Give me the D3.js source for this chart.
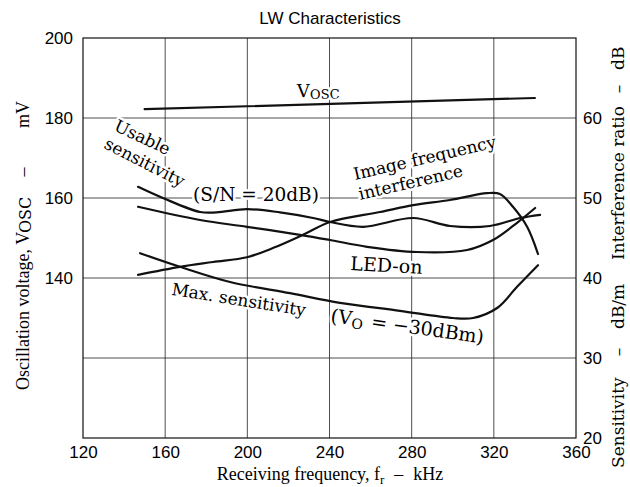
<!DOCTYPE html>
<html><head><meta charset="utf-8">
<script src="https://cdn.jsdelivr.net/npm/d3@7"></script>
<style>body{margin:0;background:#fff}svg{display:block}</style>
</head><body>
<svg id="c" width="630" height="487"></svg>
<script>
// ---- data ----
const xTicks = [120, 160, 200, 240, 280, 320, 360];
const leftTicks = [200, 180, 160, 140];
const rightTicks = [60, 50, 40, 30, 20];
const hGrid = [180, 160, 140, 120];          // in mV (left axis)

const voscFreq = [150, 340];
const voscMv   = [182.2, 185.0];

const usableFreq = [146.8, 158.9, 177.0, 185.0, 199.8, 215.9, 232.0, 240.3, 256.3, 280.7, 298.7, 318.1, 332.8, 342.5];
const usableDb   = [51.4, 50.0, 48.25, 48.2, 48.6, 48.2, 47.5, 47.0, 46.4, 47.5, 46.5, 46.5, 47.5, 47.9];

const ledFreq = [146.8, 177.0, 199.8, 225.6, 240.3, 258.3, 282.6, 307.0, 319.6, 331.3, 340.1];
const ledDb   = [48.9, 47.25, 46.4, 45.4, 44.75, 43.9, 43.25, 43.5, 44.75, 46.9, 48.75];

const imageFreq = [146.8, 167.2, 183.3, 199.8, 213.0, 227.1, 240.3, 264.6, 280.7, 298.7, 316.7, 323.0, 329.3, 336.2, 341.5];
const imageDb   = [40.4, 41.4, 42.0, 42.6, 43.8, 45.4, 47.0, 48.25, 49.1, 49.75, 50.6, 50.5, 48.9, 46.4, 43.0];

const maxFreq = [147.8, 167.2, 191.6, 220.8, 245.1, 274.3, 300.1, 309.9, 321.6, 331.3, 341.5];
const maxDb   = [43.1, 41.4, 39.5, 38.1, 36.9, 35.9, 35.0, 35.0, 36.25, 38.9, 41.6];

// ---- layout ----
const svg = d3.select("#c");
const W = 630, H = 487;
const m = {l: 83, r: 54, t: 38, b: 49};
const x = d3.scaleLinear().domain([120, 360]).range([m.l, W - m.r]);
const yL = d3.scaleLinear().domain([100, 200]).range([H - m.b, m.t]);
const yR = d3.scaleLinear().domain([20, 70]).range([H - m.b, m.t]);

const serifAx = "'Liberation Serif','Times New Roman',serif";
const serifAn = "'DejaVu Serif',serif";
const sans = "'Liberation Sans',Arial,sans-serif";

svg.append("rect").attr("width", W).attr("height", H).attr("fill", "#fff");

// title
svg.append("text").attr("x", 330).attr("y", 24).attr("text-anchor", "middle")
  .attr("font-family", sans).attr("font-size", 17).text("LW Characteristics");

// grid
const g = svg.append("g").attr("stroke", "#222").attr("stroke-width", 0.8).attr("fill", "none");
g.selectAll("line.v").data(xTicks.slice(1, -1)).join("line")
  .attr("x1", d => x(d)).attr("x2", d => x(d)).attr("y1", yL(200)).attr("y2", yL(100));
g.selectAll("line.h").data(hGrid).join("line")
  .attr("x1", x(120)).attr("x2", x(360)).attr("y1", d => yL(d)).attr("y2", d => yL(d));

// axes (labels only, frame drawn separately)
const axB = d3.axisBottom(x).tickValues(xTicks).tickSize(0).tickPadding(6);
svg.append("g").attr("transform", `translate(0,${yL(100)})`).call(axB)
  .call(s => s.select(".domain").remove())
  .selectAll("text").attr("font-family", sans).attr("font-size", 17).attr("fill", "#000")
  .attr("dy", "0.85em");
const axL = d3.axisLeft(yL).tickValues(leftTicks).tickSize(0).tickPadding(10);
svg.append("g").attr("transform", `translate(${x(120)},0)`).call(axL)
  .call(s => s.select(".domain").remove())
  .selectAll("text").attr("font-family", sans).attr("font-size", 17).attr("fill", "#000");
const axR = d3.axisRight(yR).tickValues(rightTicks).tickSize(0).tickPadding(7);
svg.append("g").attr("transform", `translate(${x(360)},0)`).call(axR)
  .call(s => s.select(".domain").remove())
  .selectAll("text").attr("font-family", sans).attr("font-size", 17).attr("fill", "#000");

// axis titles
const bt = svg.append("text").attr("x", 330).attr("y", 480).attr("text-anchor", "middle")
  .attr("font-family", serifAx).attr("font-size", 18);
bt.append("tspan").text("Receiving frequency, f");
bt.append("tspan").attr("font-size", 13).attr("dy", 4).text("r");
bt.append("tspan").attr("dy", -4).attr("dx", 10).text("–");
bt.append("tspan").attr("dx", 10).text("kHz");

// vertical title pieces: (x baseline, y where text starts at bottom, text, options)
function vtext(xb, y0, txt, opt) {
  opt = opt || {};
  return svg.append("text").attr("transform", `translate(${xb},${y0}) rotate(-90)`)
    .attr("font-family", opt.ff || serifAx).attr("font-size", opt.fs || 18)
    .attr("text-anchor", opt.anchor || "start").text(txt);
}
// left
vtext(29, 390, "Oscillation voltage, V");
vtext(31, 233, "OSC", {fs: 16, ff: serifAn});
vtext(29, 172, "–", {anchor: "middle"});
vtext(29, 128, "mV");
// right
const rf = {ff: serifAn, fs: 17};
vtext(624, 468, "Sensitivity", rf);
vtext(624, 352, "–", {ff: serifAn, fs: 17, anchor: "middle"});
vtext(624, 329, "dB/m", rf);
vtext(624, 260, "Interference ratio", rf);
vtext(624, 89, "–", {ff: serifAn, fs: 17, anchor: "middle"});
vtext(624, 70, "dB", rf);

// annotations (positioned in data units)
function ann(f, d, rot, parts, size) {
  const t = svg.append("text")
    .attr("transform", `translate(${x(f)},${yR(d)}) rotate(${rot})`)
    .attr("font-family", serifAn).attr("font-size", size || 17).attr("fill", "#000")
    .attr("stroke", "#fff").attr("stroke-width", 5).attr("paint-order", "stroke")
    .attr("stroke-linejoin", "round");
  parts.forEach(p => {
    const s = t.append("tspan").text(p.t);
    if (p.fs) s.attr("font-size", p.fs);
    if (p.dy) s.attr("dy", p.dy);
    if (p.dx) s.attr("dx", p.dx);
  });
  return t;
}
ann(224.2, 62.6, -1, [{t: "V"}, {t: "OSC", fs: 13, dy: 2}], 18);
ann(134.6, 58.5, 25, [{t: "Usable"}]);
ann(129.7, 56.3, 27, [{t: "sensitivity"}]);
ann(173.6, 49.6, 0, [{t: "(S/N = 20dB)"}], 18.5);
ann(252.4, 52.25, -13, [{t: "Image frequency"}]);
ann(254.9, 49.75, -13, [{t: "interference"}]);
ann(250.0, 41.0, 3, [{t: "LED-on"}], 19);
ann(162.8, 37.9, 9, [{t: "Max. sensitivity"}]);
ann(240.3, 34.5, 8, [{t: "(V"}, {t: "O", fs: 14, dy: 3}, {t: " = −30dBm)", dy: -3, dx: 2}], 19);

// frame
svg.append("rect").attr("x", x(120)).attr("y", yL(200))
  .attr("width", x(360) - x(120)).attr("height", yL(100) - yL(200))
  .attr("fill", "none").attr("stroke", "#111").attr("stroke-width", 1.2);

// curves
const line = d3.line().curve(d3.curveCatmullRom.alpha(0.5));
const curves = svg.append("g").attr("fill", "none").attr("stroke", "#111")
  .attr("stroke-width", 2.2).attr("stroke-linecap", "round");
curves.append("path").attr("d", line(voscFreq.map((f, i) => [x(f), yL(voscMv[i])])));
[[usableFreq, usableDb], [ledFreq, ledDb], [imageFreq, imageDb], [maxFreq, maxDb]].forEach(([fs, ds]) => {
  curves.append("path").attr("d", line(fs.map((f, i) => [x(f), yR(ds[i])])));
});
</script>
</body></html>
